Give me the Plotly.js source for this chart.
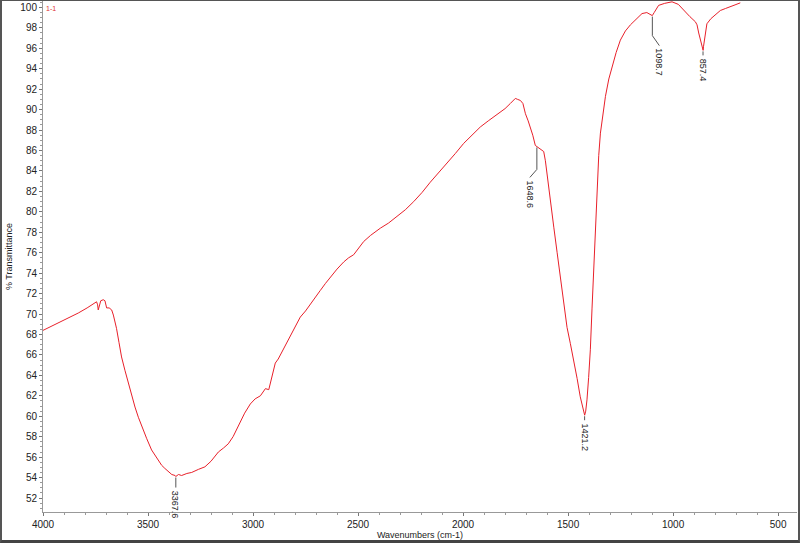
<!DOCTYPE html>
<html>
<head>
<meta charset="utf-8">
<script src="https://cdn.plot.ly/plotly-3.0.1.min.js"></script>
<style>
html,body{margin:0;padding:0;background:#fff;}
#wrap{position:relative;width:800px;height:543px;}
#chart{width:800px;height:543px;}
#frame{position:absolute;left:0;top:0;width:800px;height:543px;box-sizing:border-box;
border-top:1px solid #555;border-left:2px solid #555;border-right:2px solid #555;border-bottom:3px solid #444;pointer-events:none;}
</style>
</head>
<body>
<div id="wrap"><div id="chart"></div><div id="frame"></div></div>
<script>
// Spectrum data (wavenumber cm-1, % transmittance)
var wavenumbers = [4000,3960,3927,3880,3832,3790,3760,3745,3740,3737,3725,3713,3705,3697,3685,3673,3665,3650,3638,3626,3610,3594,3578,3562,3546,3530,3506,3483,3459,3435,3420,3403,3387,3371,3368,3355,3340,3315,3292,3260,3229,3200,3165,3140,3118,3095,3070,3040,3013,2990,2965,2941,2925,2918,2905,2894,2880,2870,2850,2823,2800,2775,2750,2727,2700,2680,2655,2632,2600,2568,2545,2521,2497,2473,2440,2394,2355,2316,2275,2235,2195,2156,2117,2078,2037,1997,1958,1918,1880,1839,1800,1775,1760,1751,1740,1727,1715,1703,1690,1680,1668,1656,1649,1640,1632,1616,1608,1600,1584,1568,1552,1537,1521,1505,1489,1473,1457,1442,1432,1426,1421,1416,1410,1402,1394,1386,1378,1370,1362,1354,1346,1334,1322,1306,1291,1271,1251,1227,1203,1175,1148,1125,1108,1099,1090,1069,1040,1005,975,949,920,894,886,878,870,862,857,855,848,839,820,800,775,750,728,705,680];
var transmittance = [68.4,68.8,69.2,69.6,70.1,70.6,71.0,71.2,70.9,70.4,71.3,71.4,71.3,70.6,70.6,70.4,69.9,68.6,67.2,65.8,64.5,63.2,62.0,60.9,59.9,59.0,57.8,56.7,55.9,55.2,54.9,54.6,54.3,54.2,54.1,54.3,54.2,54.4,54.5,54.8,55.05,55.6,56.5,56.9,57.3,58.0,59.0,60.3,61.2,61.7,62.0,62.7,62.6,63.2,64.5,65.2,65.6,66.0,66.8,67.8,68.7,69.7,70.3,71.0,71.8,72.3,73.0,73.6,74.4,75.1,75.5,75.8,76.4,77.1,77.7,78.4,78.9,79.5,80.2,81.0,81.9,82.9,83.8,84.7,85.7,86.7,87.5,88.3,88.9,89.5,90.1,90.6,90.9,91.1,91.0,90.9,90.6,89.6,88.9,88.3,87.5,86.5,86.4,86.3,86.2,85.9,85.0,83.8,81.2,78.5,76.0,73.6,71.2,68.7,67.1,65.5,63.7,61.9,61.0,60.4,60.1,60.5,61.6,63.8,66.5,70.5,74.6,78.8,82.8,85.5,87.7,89.7,91.3,93.0,94.2,95.6,96.8,97.7,98.3,98.9,99.4,99.5,99.3,99.2,99.5,100.2,100.4,100.55,100.3,99.7,99.1,98.6,98.3,97.5,96.8,96.0,95.8,96.2,97.3,98.4,98.9,99.3,99.7,99.9,100.1,100.25,100.45];

// Peak labels
var peakLabels = ["3367.6","1648.6","1421.2","1098.7","857.4"];
var peakX = [3367.6,1648.6,1421.2,1098.7,857.4];
var peakY = [54.1,86.4,60.1,99.2,95.8];

var xTicks = [4000,3500,3000,2500,2000,1500,1000,500];

// leader geometry (pixels): [vertical length, diagonal dx, diagonal dy]
var leaderStyle = [[11,0,0],[23,-7,8],[5,0,0],[20,7,10],[5,0,0]];

var shapes = [], annotations = [];
for (var i = 0; i < peakLabels.length; i++) {
  var L = leaderStyle[i];
  shapes.push({type:'line', xref:'x', yref:'y', xsizemode:'pixel', ysizemode:'pixel',
    xanchor: peakX[i], yanchor: peakY[i], x0:0, x1:0, y0:-1, y1:-L[0],
    line:{color:'#555', width:1}});
  var endX = 0, endY = -L[0];
  if (L[1] !== 0 || L[2] !== 0) {
    shapes.push({type:'line', xref:'x', yref:'y', xsizemode:'pixel', ysizemode:'pixel',
      xanchor: peakX[i], yanchor: peakY[i], x0:0, x1:L[1], y0:-L[0], y1:-L[0]-L[2],
      line:{color:'#555', width:1}});
    endX = L[1]; endY = -L[0]-L[2];
  }
  annotations.push({x: peakX[i], y: peakY[i], xref:'x', yref:'y', text: peakLabels[i],
    showarrow:false, textangle:90, xanchor:'center', yanchor:'top',
    xshift: endX, yshift: endY - 1,
    font:{family:'Liberation Sans, Arial, sans-serif', size:9, color:'#222'}});
}
annotations.push({xref:'paper', yref:'paper', x:0, y:1, xanchor:'left', yanchor:'top',
  xshift:1, yshift:-2, text:'1-1', showarrow:false,
  font:{family:'Liberation Sans, Arial, sans-serif', size:7, color:'#e03030'}});

var trace = {x: wavenumbers, y: transmittance, type:'scatter', mode:'lines',
  line:{color:'#e8202a', width:1}, hoverinfo:'skip'};

var layout = {
  width:800, height:543,
  margin:{l:43, r:3, t:1, b:31},
  paper_bgcolor:'#fff', plot_bgcolor:'#fff',
  showlegend:false,
  font:{family:'Liberation Sans, Arial, sans-serif', size:10, color:'#222'},
  xaxis:{range:[4000,410], tickvals:xTicks, ticktext:xTicks.map(String),
    showline:true, linecolor:'#999', linewidth:1, showgrid:false, zeroline:false,
    ticks:'outside', ticklen:3, tickcolor:'#777',
    minor:{dtick:100, tick0:0, ticks:'outside', ticklen:2, tickcolor:'#999', showgrid:false},
    tickfont:{size:10, color:'#222'},
    title:{text:'Wavenumbers (cm-1)', font:{size:9, color:'#222'}, standoff:2}},
  yaxis:{range:[50.63,100.63], dtick:2, tick0:0,
    showline:true, linecolor:'#999', linewidth:1, showgrid:false, zeroline:false,
    ticks:'outside', ticklen:3, tickcolor:'#777',
    minor:{dtick:0.5, ticks:'outside', ticklen:2, tickcolor:'#999', showgrid:false},
    tickfont:{size:10, color:'#222'},
    title:{text:'% Transmittance', font:{size:9, color:'#222'}, standoff:6}},
  shapes:shapes,
  annotations:annotations
};
Plotly.newPlot('chart', [trace], layout, {displayModeBar:false, staticPlot:true});
</script>
</body>
</html>
